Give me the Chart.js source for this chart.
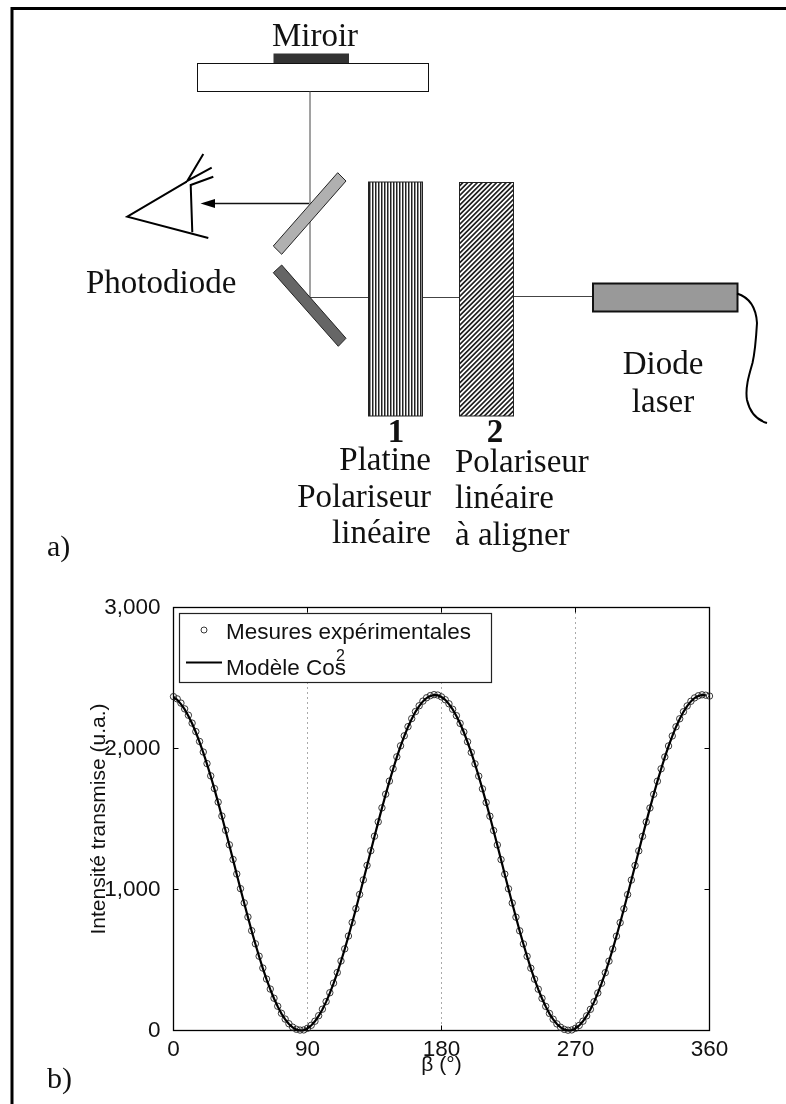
<!DOCTYPE html>
<html lang="fr">
<head>
<meta charset="utf-8">
<title>Polariseur</title>
<script src="https://cdn.jsdelivr.net/npm/chart.js@4/dist/chart.umd.min.js"></script>
<style>
  html, body { margin: 0; padding: 0; background: #fff; }
  #page { position: relative; width: 786px; height: 1104px; overflow: hidden; }
  #plot { position: absolute; left: 0; top: 0; display: block; }
  #schema { position: absolute; left: 0; top: 0; pointer-events: none; }
  #schema .tm { font-family: "Liberation Serif", serif; font-size: 33px; fill: #111; }
  #schema .sans { font-family: "Liberation Sans", sans-serif; font-size: 22.5px; fill: #111; }
</style>
</head>
<body>
<div id="page">
  <canvas id="plot" width="786" height="1104"></canvas>

  <svg id="schema" width="786" height="1104" viewBox="0 0 786 1104">
    <defs>
      <pattern id="hatchV" width="3" height="6" patternUnits="userSpaceOnUse">
        <rect width="3" height="6" fill="#fff"/>
        <rect width="1.5" height="6" fill="#222"/>
      </pattern>
      <pattern id="hatchD" width="3.4" height="6" patternUnits="userSpaceOnUse" patternTransform="rotate(45)">
        <rect width="3.4" height="6" fill="#fff"/>
        <rect width="1.7" height="6" fill="#222"/>
      </pattern>
    </defs>

    <!-- cadre -->
    <path d="M12 1104 V8.5 H786" fill="none" stroke="#000" stroke-width="3"/>

    <!-- miroir -->
    <text class="tm" x="315" y="46" text-anchor="middle">Miroir</text>
    <rect x="273.5" y="53.5" width="75.5" height="10" fill="#333"/>
    <rect x="197.5" y="63.5" width="231" height="28" fill="#fff" stroke="#111"/>

    <!-- faisceaux -->
    <path d="M310 91 V297.5 H369" fill="none" stroke="#444"/>
    <path d="M422 297.5 H460" fill="none" stroke="#444"/>
    <path d="M513 296.5 H593" fill="none" stroke="#444"/>

    <!-- lames -->
    <polygon points="337.7,172.7 346,181 281.7,254.3 273.3,246" fill="#b0b0b0" stroke="#222"/>
    <polygon points="281.7,265 273.3,272.7 338.3,346.3 346,338.3" fill="#666" stroke="#222"/>

    <!-- fleche -->
    <path d="M309 203.5 H212" fill="none" stroke="#111" stroke-width="1.3"/>
    <polygon points="200.5,203.5 215,199 215,208" fill="#000"/>

    <!-- oeil -->
    <g fill="none" stroke="#000" stroke-width="2">
      <path d="M186.7 181.7 L127.3 216.7 L208.3 238"/>
      <path d="M213.3 176.7 L190.7 185 L192.3 232.3"/>
      <path d="M203.3 154 L187.3 181 L211.7 167.7"/>
    </g>
    <text class="tm" x="86" y="293">Photodiode</text>

    <!-- polariseurs -->
    <rect x="368.5" y="182" width="54" height="234" fill="url(#hatchV)" stroke="#222"/>
    <rect x="459.5" y="182.5" width="54" height="233.5" fill="url(#hatchD)" stroke="#222"/>
    <text class="tm" x="396" y="442" text-anchor="middle" font-weight="bold">1</text>
    <text class="tm" x="495" y="442" text-anchor="middle" font-weight="bold">2</text>
    <text class="tm" x="431" y="470" text-anchor="end">Platine</text>
    <text class="tm" x="431" y="507" text-anchor="end">Polariseur</text>
    <text class="tm" x="431" y="543" text-anchor="end">linéaire</text>
    <text class="tm" x="455" y="472">Polariseur</text>
    <text class="tm" x="455" y="508">linéaire</text>
    <text class="tm" x="455" y="545">à aligner</text>

    <!-- diode -->
    <rect x="593" y="283.5" width="144.5" height="28" fill="#999" stroke="#111" stroke-width="2"/>
    <path d="M737 293.5 C748 297 756 306 757 323 C756 340 755 352 752.5 363 C749 375 745 388 747 400 C750 413 757 420 767 423" fill="none" stroke="#000" stroke-width="2"/>
    <text class="tm" x="663" y="374" text-anchor="middle">Diode</text>
    <text class="tm" x="663" y="412" text-anchor="middle">laser</text>

    <text class="tm" x="47" y="556" style="font-size:30px">a)</text>
    <text class="tm" x="47" y="1088" style="font-size:30px">b)</text>

    <!-- legende -->
    <rect x="179.5" y="613.5" width="312" height="69" fill="#fff" stroke="#222" stroke-width="1.2"/>
    <circle cx="204" cy="630" r="3" fill="#fff" stroke="#222" stroke-width="0.9"/>
    <text class="sans" x="226" y="639">Mesures expérimentales</text>
    <path d="M186 662.5 H222" fill="none" stroke="#000" stroke-width="2"/>
    <text class="sans" x="226" y="675">Modèle Cos</text>
    <text class="sans" x="336" y="661" style="font-size:16px">2</text>
  </svg>
</div>

<script>
// angles (deg) of the measurements, every 2.5 deg
const beta = [
  0,2.5,5,7.5,10,12.5,15,17.5,20,22.5,25,27.5,30,32.5,35,37.5,40,42.5,45,47.5,50,52.5,55,57.5,
  60,62.5,65,67.5,70,72.5,75,77.5,80,82.5,85,87.5,90,92.5,95,97.5,100,102.5,105,107.5,110,112.5,115,117.5,
  120,122.5,125,127.5,130,132.5,135,137.5,140,142.5,145,147.5,150,152.5,155,157.5,160,162.5,165,167.5,170,172.5,175,177.5,
  180,182.5,185,187.5,190,192.5,195,197.5,200,202.5,205,207.5,210,212.5,215,217.5,220,222.5,225,227.5,230,232.5,235,237.5,
  240,242.5,245,247.5,250,252.5,255,257.5,260,262.5,265,267.5,270,272.5,275,277.5,280,282.5,285,287.5,290,292.5,295,297.5,
  300,302.5,305,307.5,310,312.5,315,317.5,320,322.5,325,327.5,330,332.5,335,337.5,340,342.5,345,347.5,350,352.5,355,357.5,360
];

const mesures = [
  2368,2352,2322,2281,2236,2180,2120,2050,1975,1893,1806,1716,1620,1521,1420,1317,1213,1110,1006,905,805,708,615,527,
  443,365,294,229,172,122,81,48,24,9,3,4,16,37,66,105,151,205,268,336,411,493,579,670,
  766,864,965,1068,1171,1275,1378,1480,1579,1676,1769,1857,1941,2019,2090,2155,2212,2262,2303,2336,2360,2375,2382,2379,
  2366,2346,2317,2278,2233,2178,2117,2048,1972,1891,1804,1714,1617,1520,1418,1316,1212,1109,1005,904,804,707,614,526,
  442,364,293,228,171,121,80,47,23,8,2,4,16,36,66,104,150,204,266,335,410,492,578,669,
  765,863,964,1067,1170,1274,1377,1479,1578,1675,1768,1856,1940,2018,2089,2154,2211,2261,2302,2335,2359,2374,2381,2378,2372
];

// the model curve stops one step before the last measurement
const modele = [
  2365,2345,2315,2277,2231,2177,2115,2046,1971,1889,1803,1712,1616,1518,1417,1314,1211,1107,1004,902,803,706,613,525,
  441,363,292,227,170,120,79,46,22,7,0,3,15,35,65,103,149,203,265,334,409,491,577,668,
  764,862,963,1066,1169,1273,1376,1478,1577,1674,1767,1855,1939,2017,2088,2153,2210,2260,2301,2334,2358,2373,2380,2377,
  2365,2345,2315,2277,2231,2177,2115,2046,1971,1889,1803,1712,1616,1518,1417,1314,1211,1107,1004,902,803,706,613,525,
  441,363,292,227,170,120,79,46,22,7,0,3,15,35,65,103,149,203,265,334,409,491,577,668,
  764,862,963,1066,1169,1273,1376,1478,1577,1674,1767,1855,1939,2017,2088,2153,2210,2260,2301,2334,2358,2373,2380,2377
];

const xTicks = [0, 90, 180, 270, 360];
const yTicks = [0, 1000, 2000, 3000];
const xTitle = 'β (°)';
const yTitle = 'Intensité transmise (u.a.)';

const sansFont = '"Liberation Sans", sans-serif';
const ink = '#111';

// matlab style box, ticks pointing inwards on all four sides
const boxTicks = {
  id: 'boxTicks',
  beforeDatasetsDraw(chart) {
    const { ctx, chartArea: a, scales: { x, y } } = chart;
    const len = 5;
    ctx.save();
    ctx.strokeStyle = '#000';
    ctx.lineWidth = 1.3;
    ctx.strokeRect(a.left, a.top, a.right - a.left, a.bottom - a.top);
    ctx.lineWidth = 1;
    ctx.beginPath();
    xTicks.forEach(v => {
      const px = x.getPixelForValue(v);
      ctx.moveTo(px, a.bottom); ctx.lineTo(px, a.bottom - len);
      ctx.moveTo(px, a.top); ctx.lineTo(px, a.top + len);
    });
    yTicks.forEach(v => {
      const py = y.getPixelForValue(v);
      ctx.moveTo(a.left, py); ctx.lineTo(a.left + len, py);
      ctx.moveTo(a.right, py); ctx.lineTo(a.right - len, py);
    });
    ctx.stroke();
    ctx.restore();
  }
};

const chart = new Chart(document.getElementById('plot'), {
  type: 'scatter',
  plugins: [boxTicks],
  data: {
    datasets: [
      {
        label: 'Modèle Cos²',
        data: modele.map((v, i) => ({ x: beta[i], y: v })),
        showLine: true,
        borderColor: '#000',
        borderWidth: 2.2,
        pointRadius: 0,
        tension: 0,
        clip: false
      },
      {
        label: 'Mesures expérimentales',
        data: mesures.map((v, i) => ({ x: beta[i], y: v })),
        showLine: false,
        pointStyle: 'circle',
        pointRadius: 3.2,
        pointBorderWidth: 0.9,
        pointBorderColor: '#222',
        pointBackgroundColor: 'rgba(255,255,255,0)',
        clip: false
      }
    ]
  },
  options: {
    responsive: false,
    animation: false,
    events: [],
    layout: { padding: { left: 0, top: 607.5, right: 76.5, bottom: 0 } },
    plugins: { legend: { display: false }, tooltip: { enabled: false } },
    scales: {
      x: {
        type: 'linear',
        min: 0,
        max: 360,
        afterBuildTicks: s => { s.ticks = xTicks.map(v => ({ value: v })); },
        afterFit: s => { s.height = 1104 - 1030.5; },
        grid: {
          drawTicks: false,
          lineWidth: 1,
          color: c => (c.tick && c.tick.value > 0 && c.tick.value < 360) ? '#555' : 'rgba(0,0,0,0)'
        },
        border: { display: false, dash: [1, 4] },
        ticks: { color: ink, padding: 6, maxRotation: 0, font: { family: sansFont, size: 22.5 } },
        title: {
          display: true,
          text: xTitle,
          color: ink,
          font: { family: sansFont, size: 21 },
          padding: { top: 0, bottom: 26 }
        }
      },
      y: {
        min: 0,
        max: 3000,
        afterBuildTicks: s => { s.ticks = yTicks.map(v => ({ value: v })); },
        afterFit: s => { s.width = 173.5; },
        grid: { display: false },
        border: { display: false },
        ticks: { color: ink, padding: 5, font: { family: sansFont, size: 22.5 } },
        title: {
          display: true,
          text: yTitle,
          color: ink,
          font: { family: sansFont, size: 21 },
          padding: { top: 87, bottom: 0 }
        }
      }
    }
  }
});
</script>
</body>
</html>
